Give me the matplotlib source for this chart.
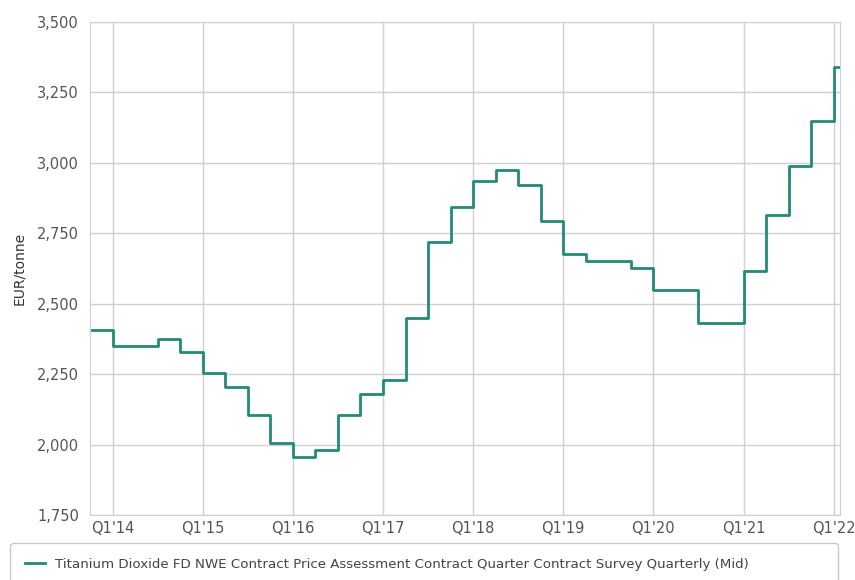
import matplotlib.pyplot as plt
from matplotlib.ticker import FuncFormatter

# Quarterly contract prices, EUR/tonne, Q4'13 .. Q1'22
start_year = 2013.75
prices = [2405,
          2350, 2350, 2375, 2330,
          2255, 2205, 2105, 2005,
          1955, 1980, 2105, 2180,
          2230, 2450, 2720, 2845,
          2935, 2975, 2920, 2795,
          2675, 2650, 2650, 2625,
          2550, 2550, 2430, 2430,
          2615, 2815, 2990, 3150,
          3340]
tick_years = [2014, 2015, 2016, 2017, 2018, 2019, 2020, 2021, 2022]
tick_labels = ["Q1'14", "Q1'15", "Q1'16", "Q1'17", "Q1'18", "Q1'19", "Q1'20", "Q1'21", "Q1'22"]
y_ticks = [1750, 2000, 2250, 2500, 2750, 3000, 3250, 3500]
series_name = 'Titanium Dioxide FD NWE Contract Price Assessment Contract Quarter Contract Survey Quarterly (Mid)'

x = [start_year + i / 4 for i in range(len(prices))]
x_end = 2022.07
xs = x + [x_end]
ys = prices + [prices[-1]]

fig = plt.figure(figsize=(8.55, 5.8), dpi=100)
ax = fig.add_axes([90 / 855, 1 - 515 / 580, 750 / 855, 493 / 580])

line, = ax.step(xs, ys, where='post', color='#238a77', lw=2, label=series_name)

ax.set_xlim(start_year, x_end)
ax.set_ylim(1750, 3500)
ax.set_xticks(tick_years)
ax.set_xticklabels(tick_labels)
ax.set_yticks(y_ticks)
ax.yaxis.set_major_formatter(FuncFormatter(lambda v, p: f'{int(v):,}'))
ax.grid(True, color='#d0d0d0', lw=1)
ax.set_axisbelow(True)
for s in ax.spines.values():
    s.set_color('#d0d0d0')
ax.tick_params(length=0, colors='#555555', labelsize=10.5)
ax.tick_params(axis='x', pad=4)
ax.tick_params(axis='y', pad=8)
ax.set_ylabel('EUR/tonne', color='#333333', fontsize=10, labelpad=8)

fig.legend(handles=[line], loc='upper left', bbox_to_anchor=(10 / 855, 1 - 549 / 580, 828 / 855, 0.01),
           mode='expand', borderaxespad=0, fontsize=9.6, frameon=True, fancybox=True, edgecolor='#bbbbbb',
           handlelength=1.5, borderpad=1.1, labelcolor='#444444')

plt.savefig('out.png', dpi=100)
